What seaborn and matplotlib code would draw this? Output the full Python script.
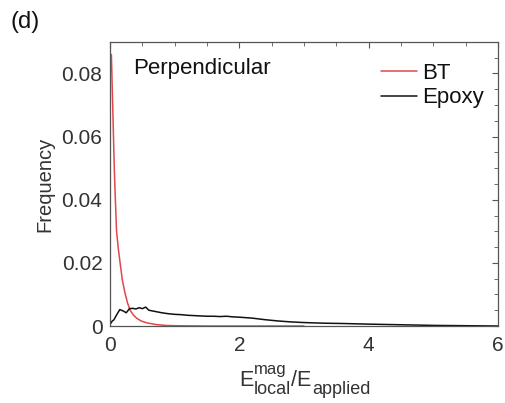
import matplotlib
matplotlib.use("Agg")
import matplotlib.pyplot as plt
import seaborn as sns
import pandas as pd
from matplotlib.ticker import MultipleLocator

bt_x = [0.0, 0.02, 0.035, 0.05, 0.065, 0.08, 0.1, 0.13, 0.155, 0.19, 0.23, 0.27, 0.31, 0.36, 0.41, 0.48, 0.57, 0.7, 0.85, 1.0, 1.5, 2.0, 2.5, 3.0]
bt_y = [0.086, 0.086, 0.074, 0.062, 0.050, 0.041, 0.030, 0.024, 0.020, 0.0145, 0.0105, 0.0073, 0.005, 0.0035, 0.0025, 0.0016, 0.001, 0.0005, 0.0002, 0.0001, 0.0, 0.0, 0.0, 0.0]

ep_x = [0.0, 0.03, 0.06, 0.1, 0.15, 0.2, 0.25, 0.3, 0.35, 0.4, 0.45, 0.5, 0.55, 0.6, 0.7, 0.8, 0.9, 1.0, 1.1, 1.2, 1.3, 1.4, 1.5, 1.6, 1.7, 1.8, 1.9, 2.0, 2.2, 2.4, 2.6, 2.8, 3.0, 3.3, 3.6, 4.0, 4.5, 5.0, 5.5, 6.0]
ep_y = [0.0005, 0.0015, 0.002, 0.0035, 0.0052, 0.0048, 0.0042, 0.0055, 0.0056, 0.0054, 0.0058, 0.0055, 0.006, 0.005, 0.0046, 0.0042, 0.0039, 0.0037, 0.0036, 0.0034, 0.0033, 0.0032, 0.0031, 0.0031, 0.0030, 0.0031, 0.0029, 0.0028, 0.0025, 0.0020, 0.0016, 0.0013, 0.0011, 0.0009, 0.0008, 0.0006, 0.0004, 0.0002, 0.0001, 0.0]

series = ["BT", "Epoxy"]
colors = {"BT": "#e2474b", "Epoxy": "#111111"}
x_ticks = [0, 2, 4, 6]
x_tick_labels = ["0", "2", "4", "6"]
y_ticks = [0, 0.02, 0.04, 0.06, 0.08]
y_tick_labels = ["0", "0.02", "0.04", "0.06", "0.08"]

df = pd.concat([
    pd.DataFrame({"x": bt_x, "y": bt_y, "s": "BT"}),
    pd.DataFrame({"x": ep_x, "y": ep_y, "s": "Epoxy"}),
])

sns.set_style("white")
plt.rcParams['font.family'] = ['Liberation Sans', 'DejaVu Sans']
txt = "#333333"

fig = plt.figure(figsize=(5.05, 4.03), dpi=100)
ax = fig.add_axes([0.218, 0.191, 0.768, 0.705])
sns.lineplot(data=df, x="x", y="y", hue="s", hue_order=series, palette=colors,
             linewidth=1.1, ax=ax, sort=False, estimator=None)

ax.set_xlim(0, 6)
ax.set_ylim(0, 0.09)
ax.set_xticks(x_ticks)
ax.set_xticklabels(x_tick_labels)
ax.set_yticks(y_ticks)
ax.set_yticklabels(y_tick_labels)
ax.xaxis.set_minor_locator(MultipleLocator(0.5))
ax.yaxis.set_minor_locator(MultipleLocator(0.005))
ax.tick_params(which="both", direction="in", top=True, right=True, colors="#555555",
               labelcolor=txt, labelsize=15)
ax.tick_params(which="major", length=4, width=0.8)
ax.tick_params(which="minor", length=3, width=0.6)
ax.tick_params(axis="x", which="major", pad=7)
ax.tick_params(axis="y", which="major", pad=5.5)
for sp in ax.spines.values():
    sp.set_color("#555555")
    sp.set_linewidth(0.9)

ax.set_xlabel("")
ax.set_ylabel("Frequency", fontsize=14.5, color=txt, labelpad=5)

# composite x label: E^mag_local / E_applied
base_y = 17   # figure pixels, baseline of main text
t1 = fig.text(239 / 505, base_y / 403, "E", fontsize=15.5, color=txt, va="baseline", ha="left")
t2 = ax.annotate("mag", xy=(1, base_y + 12), xycoords=(t1, "figure pixels"),
                 xytext=(0.5, 0), textcoords="offset points",
                 fontsize=12, color=txt, va="baseline", ha="left")
t3 = ax.annotate("local", xy=(1, base_y - 8), xycoords=(t1, "figure pixels"),
                 xytext=(0.5, 0), textcoords="offset points",
                 fontsize=13, color=txt, va="baseline", ha="left")
t4 = ax.annotate("/E", xy=(1, base_y), xycoords=(t3, "figure pixels"),
                 fontsize=15.5, color=txt, va="baseline", ha="left")
t5 = ax.annotate("applied", xy=(1, base_y - 8), xycoords=(t4, "figure pixels"),
                 xytext=(0.3, 0), textcoords="offset points",
                 fontsize=13, color=txt, va="baseline", ha="left")

ax.text(0.06, 0.945, "Perpendicular", transform=ax.transAxes, fontsize=16, color="#111111",
        va="top", ha="left")
leg = ax.legend(loc="upper right", frameon=False, fontsize=16, handlelength=1.6,
                handletextpad=0.25, borderaxespad=0.5, labelspacing=0.15,
                bbox_to_anchor=(1.016, 0.996))
for t in leg.get_texts():
    t.set_color("#111111")

fig.text(0.02, 0.945, "(d)", fontsize=17, color="#111111", va="center")

fig.savefig("out.png", dpi=100)
